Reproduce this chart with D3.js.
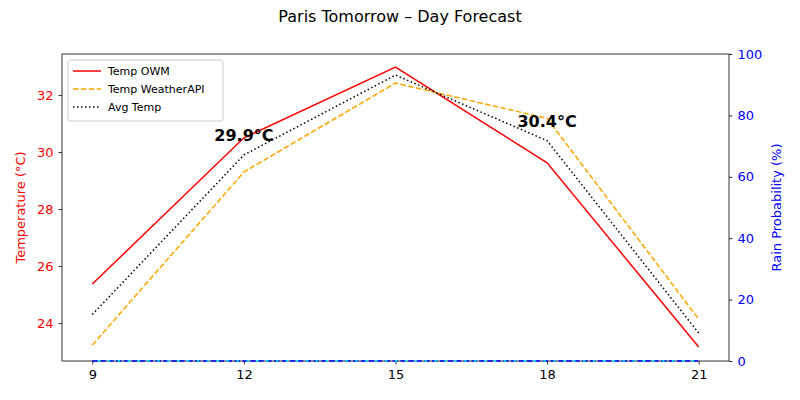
<!DOCTYPE html>
<html>
<head>
<meta charset="utf-8">
<script src="https://cdn.jsdelivr.net/npm/d3@7"></script>
<style>
  body { margin: 0; background: #fff; }
  svg text { font-family: "DejaVu Sans", sans-serif; }
</style>
</head>
<body>
<svg id="chart" width="800" height="400"></svg>
<script>
// forecast hours
const hours = [9, 12, 15, 18, 21];
// temperatures (°C)
const tempOWM = [25.37, 30.5, 32.98, 29.62, 23.16];
const tempWAPI = [23.23, 29.3, 32.42, 31.18, 24.14];
const tempAvg = [24.3, 29.9, 32.7, 30.4, 23.65];
// rain probability (%)
const rainOWM = [0, 0, 0, 0, 0];
const rainWAPI = [0, 0, 0, 0, 0];
// annotated points (index into hours)
const annotated = [1, 3];

const svg = d3.select("#chart");
const plotLeft = 62, plotRight = 729, plotTop = 54, plotBottom = 361;

let x = d3.scaleLinear().domain([8.4, 21.6]).range([plotLeft, plotRight]);
let yT = d3.scaleLinear().domain([22.67, 33.44]).range([plotBottom, plotTop]);
let yR = d3.scaleLinear().domain([0, 100]).range([plotBottom, plotTop]);

// title
svg.append("text").attr("x", 400).attr("y", 22).attr("text-anchor", "middle")
  .attr("font-size", "16px").text("Paris Tomorrow \u2013 Day Forecast");

// x axis
let gx = svg.append("g").attr("transform", "translate(0," + plotBottom + ")")
  .call(d3.axisBottom(x).tickValues(hours).tickSize(3.5).tickPadding(5));
gx.selectAll("text").attr("font-size", "13px").attr("fill", "#000");

// left axis
let gl = svg.append("g").attr("transform", "translate(" + plotLeft + ",0)")
  .call(d3.axisLeft(yT).tickValues([24, 26, 28, 30, 32]).tickSize(3.5).tickPadding(5));
gl.selectAll("text").attr("font-size", "13px").attr("fill", "red");

// right axis
let gr = svg.append("g").attr("transform", "translate(" + plotRight + ",0)")
  .call(d3.axisRight(yR).tickValues([0, 20, 40, 60, 80, 100]).tickSize(3.5).tickPadding(5));
gr.selectAll("text").attr("font-size", "13px").attr("fill", "blue");

svg.selectAll(".domain").remove();
svg.selectAll(".tick line").attr("stroke", "#000").attr("stroke-width", 0.8);

// frame
svg.append("rect").attr("x", plotLeft).attr("y", plotTop)
  .attr("width", plotRight - plotLeft).attr("height", plotBottom - plotTop)
  .attr("fill", "none").attr("stroke", "#000").attr("stroke-width", 0.8);

// axis labels
svg.append("text").attr("transform", "translate(25," + ((plotTop + plotBottom) / 2) + ") rotate(-90)")
  .attr("text-anchor", "middle").attr("font-size", "13px").attr("fill", "red")
  .text("Temperature (\u00B0C)");
svg.append("text").attr("transform", "translate(781," + ((plotTop + plotBottom) / 2) + ") rotate(-90)")
  .attr("text-anchor", "middle").attr("font-size", "13px").attr("fill", "blue")
  .text("Rain Probability (%)");

let plot = svg.append("g");

// rain lines (at 0)
let rainLine = d3.line().x((d, i) => x(hours[i])).y(d => yR(d));
plot.append("path").datum(rainOWM).attr("d", rainLine)
  .attr("fill", "none").attr("stroke", "blue").attr("stroke-width", 1.5)
  .attr("stroke-dasharray", "5.5,2.4");
plot.append("path").datum(rainWAPI).attr("d", rainLine)
  .attr("fill", "none").attr("stroke", "cyan").attr("stroke-width", 1.5)
  .attr("stroke-dasharray", "2.5,7.4").attr("stroke-dashoffset", -5.5);

// temperature lines
let tLine = d3.line().x((d, i) => x(hours[i])).y(d => yT(d));
const series = [
  { name: "Temp OWM", vals: tempOWM, color: "red", dash: null },
  { name: "Temp WeatherAPI", vals: tempWAPI, color: "orange", dash: "5.5,2.4" },
  { name: "Avg Temp", vals: tempAvg, color: "black", dash: "1.5,2.5" }
];
series.forEach(s => {
  plot.append("path").datum(s.vals).attr("d", tLine)
    .attr("fill", "none").attr("stroke", s.color).attr("stroke-width", 1.5)
    .attr("stroke-dasharray", s.dash);
});

// annotations
annotated.forEach(i => {
  svg.append("text").attr("x", x(hours[i])).attr("y", yT(tempAvg[i]) - 14)
    .attr("text-anchor", "middle").attr("font-size", "16px").attr("font-weight", "bold")
    .text(tempAvg[i].toFixed(1) + "\u00B0C");
});

// legend
let lg = svg.append("g").attr("transform", "translate(68,60)");
lg.append("rect").attr("width", 155).attr("height", 61).attr("rx", 2.5)
  .attr("fill", "#fff").attr("fill-opacity", 0.8).attr("stroke", "#ccc");
series.forEach((s, i) => {
  let yy = 11 + i * 18;
  lg.append("line").attr("x1", 5).attr("x2", 33).attr("y1", yy).attr("y2", yy)
    .attr("stroke", s.color).attr("stroke-width", 1.5).attr("stroke-dasharray", s.dash);
  lg.append("text").attr("x", 40).attr("y", yy + 4).attr("font-size", "11px").text(s.name);
});
</script>
</body>
</html>
